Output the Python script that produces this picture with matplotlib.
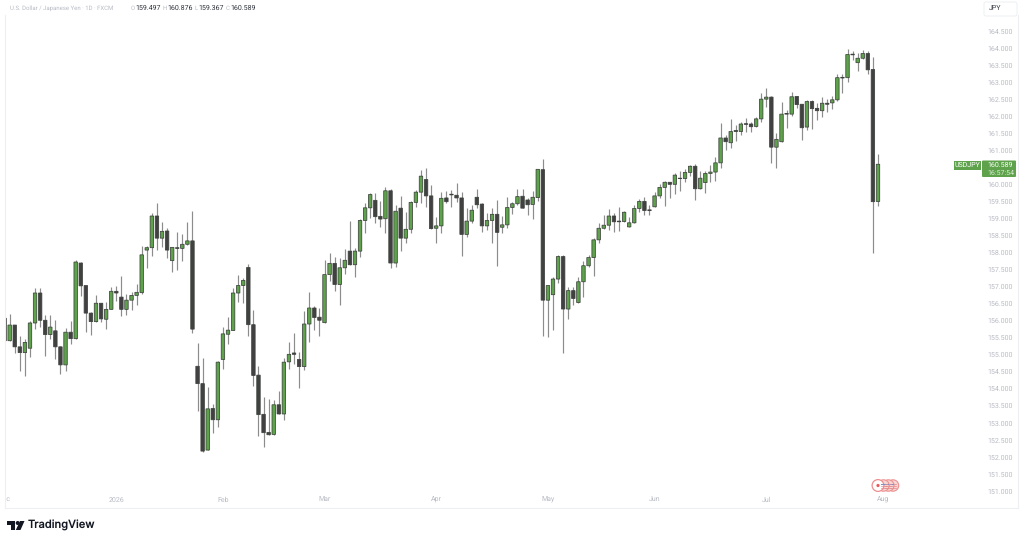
import matplotlib
matplotlib.use("Agg")
import matplotlib.pyplot as plt
import numpy as np
from matplotlib.patches import Circle, FancyBboxPatch, Polygon, Rectangle

plt.rcParams['font.family'] = ['Roboto', 'DejaVu Sans']
plt.rcParams['text.hinting'] = 'no_hinting'
plt.rcParams['text.hinting_factor'] = 1

# daily candles, first one is clipped by the pane edge
opens = [156.07, 155.41, 155.87, 155.23, 155.06, 155.19, 155.93, 156.81, 156.01, 155.59,
         155.70, 155.23, 154.70, 155.66, 155.47, 157.69, 157.03, 156.22, 155.97, 156.51,
         156.04, 156.33, 156.86, 156.69, 156.33, 156.60, 156.74, 156.82, 158.07, 158.14,
         159.07, 158.42, 158.63, 157.76, 158.14, 158.12, 158.24, 158.34, 154.66, 154.15,
         152.20, 153.42, 153.09, 154.86, 155.60, 155.71, 156.81, 157.03, 157.56, 155.88,
         154.40, 153.25, 152.72, 152.66, 153.53, 153.26, 154.79, 155.05, 154.86, 154.65,
         155.90, 156.37, 156.10, 155.94, 157.35, 157.68, 157.06, 157.55, 158.04, 157.64,
         158.04, 158.94, 159.31, 159.53, 159.06, 158.99, 159.81, 157.69, 159.30, 158.42,
         158.68, 159.47, 159.77, 160.14, 159.66, 158.71, 158.78, 159.60, 159.71, 159.68,
         159.60, 158.53, 158.92, 159.62, 159.42, 158.78, 158.94, 159.12, 158.74, 158.81,
         159.32, 159.43, 159.65, 159.54, 159.41, 159.61, 160.43, 156.60, 156.76, 157.22,
         157.88, 156.34, 156.88, 156.53, 157.14, 157.61, 157.85, 158.37, 158.71, 158.80,
         159.07, 158.92, 158.91, 158.75, 158.87, 159.29, 159.50, 159.25, 159.34, 159.66,
         159.91, 160.06, 160.00, 160.18, 160.17, 160.35, 160.53, 159.87, 160.05, 160.32,
         160.36, 160.63, 161.36, 161.22, 161.58, 161.55, 161.78, 161.77, 161.70, 161.92,
         162.50, 162.56, 161.09, 161.25, 162.08, 162.06, 162.58, 162.35, 161.68, 162.43,
         162.23, 162.16, 162.38, 162.39, 162.48, 163.14, 163.13, 163.82, 163.57, 163.70,
         163.84, 163.37, 159.497]
highs = [156.07, 156.20, 155.87, 155.56, 155.46, 156.00, 156.96, 156.95, 156.17, 156.15,
         156.01, 155.26, 155.77, 155.99, 157.78, 157.71, 157.03, 156.26, 156.75, 156.53,
         156.56, 157.00, 157.02, 157.31, 156.78, 156.85, 157.07, 158.19, 158.19, 159.17,
         159.44, 158.88, 158.71, 158.17, 158.61, 158.54, 158.89, 159.22, 155.35, 154.90,
         154.06, 153.55, 154.80, 155.80, 156.10, 156.97, 157.34, 157.26, 157.66, 156.31,
         154.68, 153.77, 153.70, 153.67, 153.94, 154.89, 155.36, 155.65, 155.08, 156.29,
         156.84, 156.44, 156.37, 157.78, 157.97, 157.86, 157.83, 158.09, 158.91, 158.14,
         158.97, 159.44, 159.74, 159.75, 159.50, 159.91, 159.87, 159.38, 159.67, 159.20,
         159.51, 159.83, 160.42, 160.47, 159.98, 159.03, 159.76, 159.80, 159.83, 160.03,
         159.76, 159.30, 159.39, 159.86, 159.46, 159.15, 159.30, 159.54, 159.07, 159.64,
         159.49, 159.85, 159.85, 159.61, 159.80, 160.46, 160.73, 157.05, 157.29, 157.92,
         157.92, 156.98, 157.00, 157.29, 157.76, 157.92, 158.42, 158.86, 159.10, 159.27,
         159.17, 159.34, 159.23, 159.05, 159.38, 159.58, 159.64, 159.39, 159.76, 160.00,
         160.11, 160.08, 160.32, 160.40, 160.44, 160.56, 160.60, 160.39, 160.40, 160.58,
         160.79, 161.81, 161.45, 161.93, 161.74, 161.84, 161.94, 161.84, 161.97, 162.67,
         162.82, 162.59, 161.52, 162.42, 162.18, 162.71, 162.58, 162.35, 162.46, 162.46,
         162.40, 162.55, 162.49, 162.59, 163.24, 163.23, 163.96, 163.92, 163.84, 163.94,
         163.91, 163.73, 160.876]
lows = [155.41, 155.41, 155.04, 154.53, 154.38, 154.92, 155.76, 155.82, 154.96, 155.46,
        154.86, 154.43, 154.53, 155.30, 155.47, 156.72, 155.68, 155.58, 155.97, 155.97,
        155.76, 156.33, 156.58, 156.14, 156.17, 156.31, 156.47, 156.78, 157.53, 157.91,
        158.07, 158.17, 157.84, 157.44, 157.48, 157.75, 158.22, 155.63, 153.34, 152.13,
        152.20, 152.71, 152.89, 154.57, 155.31, 155.71, 156.54, 156.53, 155.55, 154.08,
        152.60, 152.30, 152.65, 152.63, 153.26, 153.09, 154.57, 154.73, 154.03, 154.55,
        155.37, 155.73, 155.56, 155.94, 157.17, 156.88, 156.47, 157.38, 157.64, 157.28,
        157.88, 158.58, 159.02, 158.86, 158.74, 158.58, 157.53, 157.56, 158.03, 158.27,
        158.58, 159.32, 159.46, 159.32, 158.68, 158.28, 158.56, 159.44, 159.32, 159.47,
        157.91, 158.46, 158.87, 159.30, 158.61, 158.66, 158.29, 157.61, 158.56, 158.71,
        159.12, 159.39, 159.30, 159.10, 158.97, 159.52, 155.56, 155.53, 155.71, 157.09,
        155.04, 156.04, 156.45, 156.53, 156.70, 157.58, 157.31, 158.27, 158.68, 158.66,
        158.61, 158.62, 158.88, 158.75, 158.86, 159.20, 159.11, 159.10, 159.32, 159.59,
        159.37, 159.59, 159.72, 159.81, 160.08, 160.24, 159.54, 159.87, 159.74, 160.08,
        160.11, 160.47, 161.01, 161.08, 161.27, 161.45, 161.55, 161.53, 161.69, 161.84,
        162.28, 160.62, 160.49, 161.25, 161.65, 162.01, 162.24, 161.30, 161.59, 161.61,
        161.89, 161.99, 162.13, 162.20, 162.45, 162.67, 163.01, 163.65, 163.33, 163.67,
        163.23, 157.98, 159.367]
closes = [155.41, 155.87, 155.23, 155.06, 155.36, 155.93, 156.81, 156.01, 155.59, 155.81,
          155.23, 154.70, 155.66, 155.47, 157.72, 157.02, 156.22, 155.97, 156.51, 156.05,
          156.33, 156.86, 156.81, 156.33, 156.60, 156.74, 156.83, 157.93, 158.14, 159.07,
          158.42, 158.62, 158.07, 158.15, 158.12, 158.24, 158.34, 155.75, 154.15, 152.17,
          153.41, 153.09, 154.78, 155.61, 155.72, 156.81, 157.03, 157.18, 155.88, 154.39,
          153.24, 152.71, 152.65, 153.53, 153.26, 154.78, 155.01, 155.01, 154.65, 155.90,
          156.37, 156.09, 156.01, 157.35, 157.68, 157.06, 157.55, 157.77, 157.64, 158.04,
          158.94, 159.31, 159.70, 159.05, 158.98, 159.81, 157.69, 159.21, 158.42, 158.68,
          159.47, 159.77, 160.24, 159.66, 158.70, 158.78, 159.59, 159.49, 159.69, 159.60,
          158.53, 158.92, 159.24, 159.40, 158.78, 158.94, 159.12, 158.59, 158.81, 159.32,
          159.43, 159.64, 159.30, 159.40, 159.62, 160.44, 156.60, 157.03, 157.22, 157.88,
          156.34, 156.88, 156.65, 157.14, 157.61, 157.85, 158.37, 158.71, 158.80, 159.07,
          158.90, 158.90, 159.18, 158.87, 159.29, 159.50, 159.23, 159.23, 159.66, 159.91,
          160.06, 160.00, 160.27, 160.17, 160.35, 160.53, 159.87, 160.18, 160.32, 160.36,
          160.63, 161.36, 161.25, 161.55, 161.55, 161.77, 161.76, 161.69, 161.92, 162.50,
          162.56, 161.09, 161.32, 162.06, 162.06, 162.57, 162.34, 161.66, 162.43, 162.22,
          162.16, 162.38, 162.35, 162.48, 163.13, 163.12, 163.81, 163.80, 163.70, 163.84,
          163.36, 159.49, 160.589]

# 160.500 is hidden behind the last price badge
price_ticks = [151.0, 151.5, 152.0, 152.5, 153.0, 153.5, 154.0, 154.5, 155.0, 155.5,
               156.0, 156.5, 157.0, 157.5, 158.0, 158.5, 159.0, 159.5, 160.0,
               161.0, 161.5, 162.0, 162.5, 163.0, 163.5, 164.0, 164.5]
month_labels = ['Dec', '2026', 'Feb', 'Mar', 'Apr', 'May', 'Jun', 'Jul', 'Aug']
month_bars = [0, 22, 43, 63, 85, 107, 128, 150, 173]

GREEN = '#5ea34b'
DARK = '#414141'
EDGE = '#3d423d'
WICK = '#8c8c8c'
LABEL = '#b8bbc4'

fig = plt.figure(figsize=(10.24, 5.42), dpi=100, facecolor='white')
W, H = 1024, 542
ax = fig.add_axes([5 / W, (H - 508) / H, 978 / W, 492 / H])
ax.set_xlim(0.08, 192.68)
ax.set_ylim(150.50, 164.94)
for s in ax.spines.values():
    s.set_visible(False)

bars = np.arange(len(opens))
o, h, l, c = map(np.array, (opens, highs, lows, closes))
up = c >= o
ax.vlines(bars, l, h, color=WICK, lw=0.85, zorder=2)
up_bars = ax.bar(bars[up], (c - o)[up], bottom=o[up], width=0.68, color=GREEN, edgecolor=EDGE, lw=0.55, zorder=3)
down_bars = ax.bar(bars[~up], (o - c)[~up], bottom=c[~up], width=0.68, color=DARK, edgecolor=EDGE, lw=0.55, zorder=3)
for p in list(up_bars) + list(down_bars):
    p.set_snap(False)

ax.yaxis.tick_right()
ax.set_yticks(price_ticks)
ax.set_yticklabels(['%.3f' % p for p in price_ticks], fontsize=5.2, color=LABEL)
ax.tick_params(axis='y', length=0, pad=3)
ax.set_xticks([])
for name, b in zip(month_labels, month_bars):
    ax.text(b, 150.74, name, fontsize=5.2, color=LABEL, ha='center', va='center', clip_on=True)

# overlay in pixels for the frame, header, badges and logo
ov = fig.add_axes([0, 0, 1, 1], zorder=5)
ov.set_xlim(0, W)
ov.set_ylim(H, 0)
ov.axis('off')
ov.patch.set_alpha(0)
ov.plot([5, 5], [15, 508], color='#eeeff2', lw=0.8)
ov.plot([5, 1018], [508, 508], color='#eeeff2', lw=0.8)
ov.plot([1018, 1018], [15, 508], color='#eeeff2', lw=0.8)

ov.text(10, 8, 'U.S. Dollar / Japanese Yen · 1D · FXCM', fontsize=4.45, color=LABEL, va='center')
for xl, xv, key, val in [(131, 135.5, 'O', opens[-1]), (162.5, 167, 'H', highs[-1]),
                         (194.5, 198, 'L', lows[-1]), (225.5, 230, 'C', closes[-1])]:
    ov.text(xl, 8, key, fontsize=4.45, color=LABEL, va='center')
    ov.text(xv, 8, '%.3f' % val, fontsize=5.0, color='#30333c', va='center')

ov.add_patch(FancyBboxPatch((984, 2), 33, 14, boxstyle='round,pad=0,rounding_size=2',
                            fc='white', ec='#eeeff2', lw=0.7))
ov.text(988.5, 9, 'JPY', fontsize=5, color='#3a3d46', va='center')

ov.add_patch(Rectangle((954, 160.5), 27, 9, fc=GREEN, ec='none'))
ov.text(967.5, 165, 'USDJPY', fontsize=5.0, color='white', ha='center', va='center')
ov.add_patch(FancyBboxPatch((982, 160.5), 34, 16.5, boxstyle='round,pad=0,rounding_size=1',
                            fc=GREEN, ec='none'))
ov.text(987, 164.6, '%.3f' % closes[-1], fontsize=4.9, color='white', va='center')
ov.text(987, 172.6, '16:57:54', fontsize=4.9, color='#dbead6', va='center')

# event icons
for cx in (893, 888.3, 883.5):
    ov.add_patch(Circle((cx, 485.5), 5.7, fc='#f8d6d6', ec='#ee8f8f', lw=0.8))
    for dy in (-2, 0, 2):
        ov.plot([cx - 3, cx + 3], [485.5 + dy, 485.5 + dy], color='#e58b8b', lw=0.5)
    ov.plot([cx - 3, cx], [483.5, 483.5], color='#7d8fc4', lw=0.7)
ov.add_patch(Circle((878, 485.5), 5.9, fc='white', ec='#ee8f8f', lw=0.9))
ov.add_patch(Circle((878, 485.5), 1.6, fc='#ea5b5b', ec='none'))

# TradingView mark and wordmark
LOGO = '#131722'
ov.add_patch(Polygon([(7, 521), (15, 521), (15, 530), (11, 530), (11, 525), (7, 525)], fc=LOGO, ec='none'))
ov.add_patch(Circle((17.7, 523), 2, fc=LOGO, ec='none'))
ov.add_patch(Polygon([(20, 521), (24.5, 521), (20.5, 530), (15.8, 530)], fc=LOGO, ec='none'))
ov.text(27.5, 525.5, 'TradingView', fontsize=8.0, color=LOGO, family='Inter', weight='medium', va='center')

fig.savefig('out.png', dpi=100)
